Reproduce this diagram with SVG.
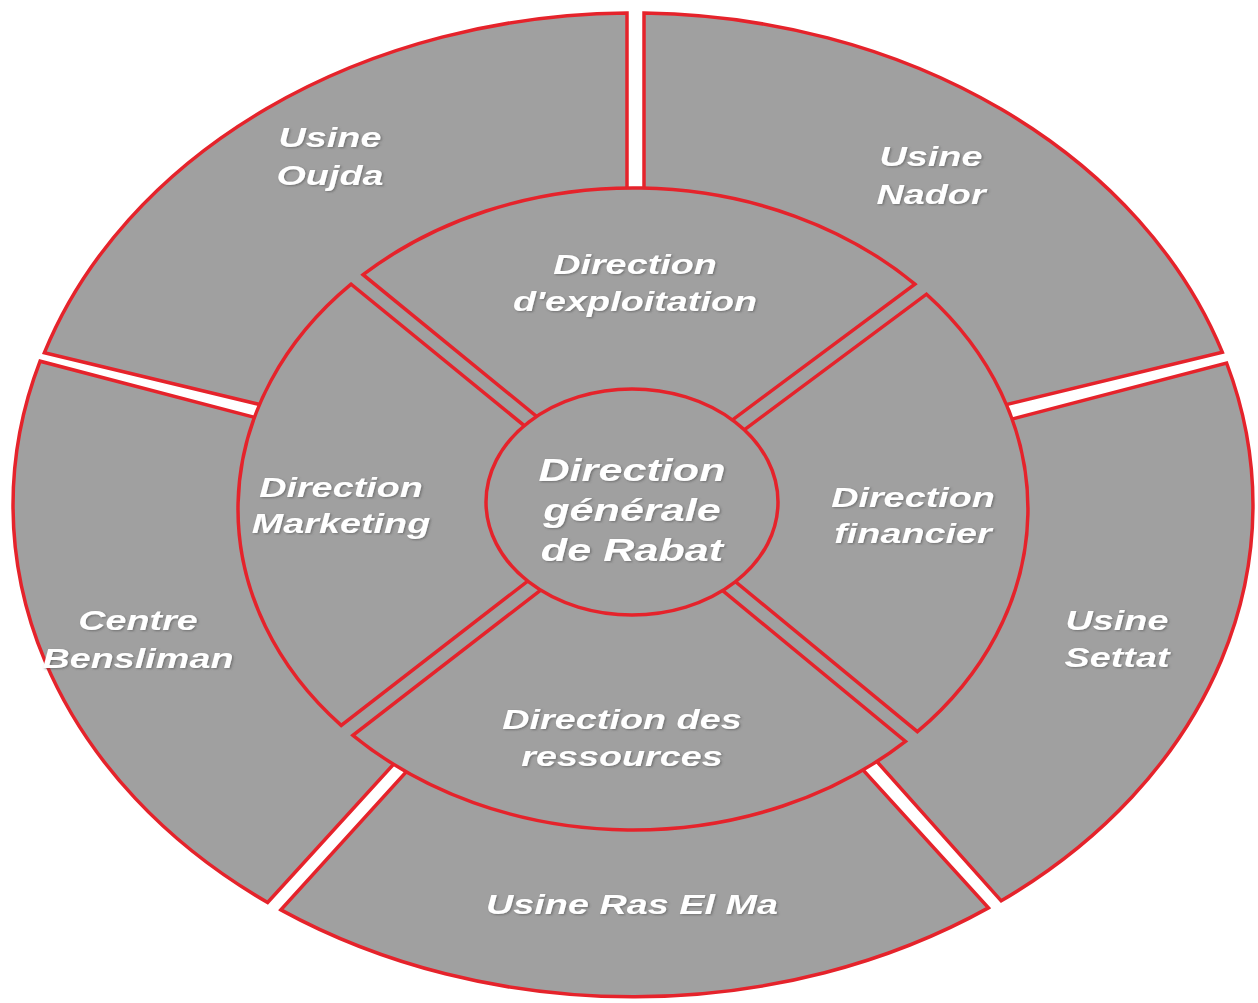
<svg xmlns="http://www.w3.org/2000/svg" width="1258" height="1003" viewBox="0 0 1258 1003">
<style>
.seg{fill:#a0a0a0;stroke:#e5232b;stroke-width:3.5;stroke-linejoin:miter}
.lbl{font-family:"Liberation Sans",Arial,sans-serif;font-weight:bold;font-style:italic;font-size:28px;fill:#ffffff;text-anchor:middle;filter:url(#shadow)}
.big{font-size:32px}
</style>
<defs>
<filter id="shadow" x="-10%" y="-20%" width="120%" height="140%">
<feDropShadow dx="1" dy="1" stdDeviation="0.8" flood-color="#505050" flood-opacity="0.6"/>
</filter>
</defs>
<rect width="1258" height="1003" fill="#ffffff"/>
<g id="outer-ring">
<g id="usine-oujda">
<path class="seg" d="M44.4,352.7 A620,492 0 0 1 627,13 L627,300 L402.6,438.9 Z"/>
<text class="lbl" transform="translate(330,0) scale(1.35,1)"><tspan x="0" y="147">Usine</tspan><tspan x="0" y="185">Oujda</tspan></text>
</g>
<g id="usine-nador">
<path class="seg" d="M644,13.1 A620,492 0 0 1 1222.3,352.2 L850,442.5 L644,300 Z"/>
<text class="lbl" transform="translate(931,0) scale(1.35,1)"><tspan x="0" y="166">Usine</tspan><tspan x="0" y="204">Nador</tspan></text>
</g>
<g id="usine-settat">
<path class="seg" d="M1226.6,363 A620,492 0 0 1 1001.2,900.8 L780,653 L850,461.4 Z"/>
<text class="lbl" transform="translate(1117,0) scale(1.35,1)"><tspan x="0" y="630">Usine</tspan><tspan x="0" y="667">Settat</tspan></text>
</g>
<g id="usine-ras-el-ma">
<path class="seg" d="M988.4,907.9 A620,492 0 0 1 280.9,909.9 L506,662 L764,661 Z"/>
<text class="lbl" transform="translate(632,0) scale(1.35,1)"><tspan x="0" y="914">Usine Ras El Ma</tspan></text>
</g>
<g id="centre-bensliman">
<path class="seg" d="M267.6,902.5 A620,492 0 0 1 40.1,361.2 L398,455 L494,654 Z"/>
<text class="lbl" transform="translate(138,0) scale(1.35,1)"><tspan x="0" y="630">Centre</tspan><tspan x="0" y="668">Bensliman</tspan></text>
</g>
</g>
<ellipse id="inner-base" cx="633" cy="509" rx="395" ry="321" fill="#a0a0a0"/>
<g id="inner-ring">
<g id="direction-exploitation">
<path class="seg" d="M363.1,274.7 A395,321 0 0 1 914.9,284.1 L699.7,444.3 L567,441.3 Z"/>
<text class="lbl" transform="translate(635,0) scale(1.35,1)"><tspan x="0" y="274">Direction</tspan><tspan x="0" y="311">d'exploitation</tspan></text>
</g>
<g id="direction-financier">
<path class="seg" d="M926.5,294.2 A395,321 0 0 1 917.4,731.7 L706.2,557.5 L708.7,456.3 Z"/>
<text class="lbl" transform="translate(913,0) scale(1.35,1)"><tspan x="0" y="507">Direction</tspan><tspan x="0" y="543">financier</tspan></text>
</g>
<g id="direction-ressources">
<path class="seg" d="M905.5,741.4 A395,321 0 0 1 352.9,735.3 L565.4,571 L696.6,569.1 Z"/>
<text class="lbl" transform="translate(622,0) scale(1.35,1)"><tspan x="0" y="729">Direction des</tspan><tspan x="0" y="766">ressources</tspan></text>
</g>
<g id="direction-marketing">
<path class="seg" d="M341.2,725.4 A395,321 0 0 1 351.1,284.2 L557.6,452.9 L556.2,559.1 Z"/>
<text class="lbl" transform="translate(341,0) scale(1.35,1)"><tspan x="0" y="497">Direction</tspan><tspan x="0" y="533">Marketing</tspan></text>
</g>
</g>
<g id="direction-generale">
<ellipse class="seg" cx="632" cy="502" rx="146" ry="113"/>
<text class="lbl big" transform="translate(632,0) scale(1.35,1)"><tspan x="0" y="481">Direction</tspan><tspan x="0" y="521">générale</tspan><tspan x="0" y="561">de Rabat</tspan></text>
</g>
<g id="connectors"/>
</svg>
